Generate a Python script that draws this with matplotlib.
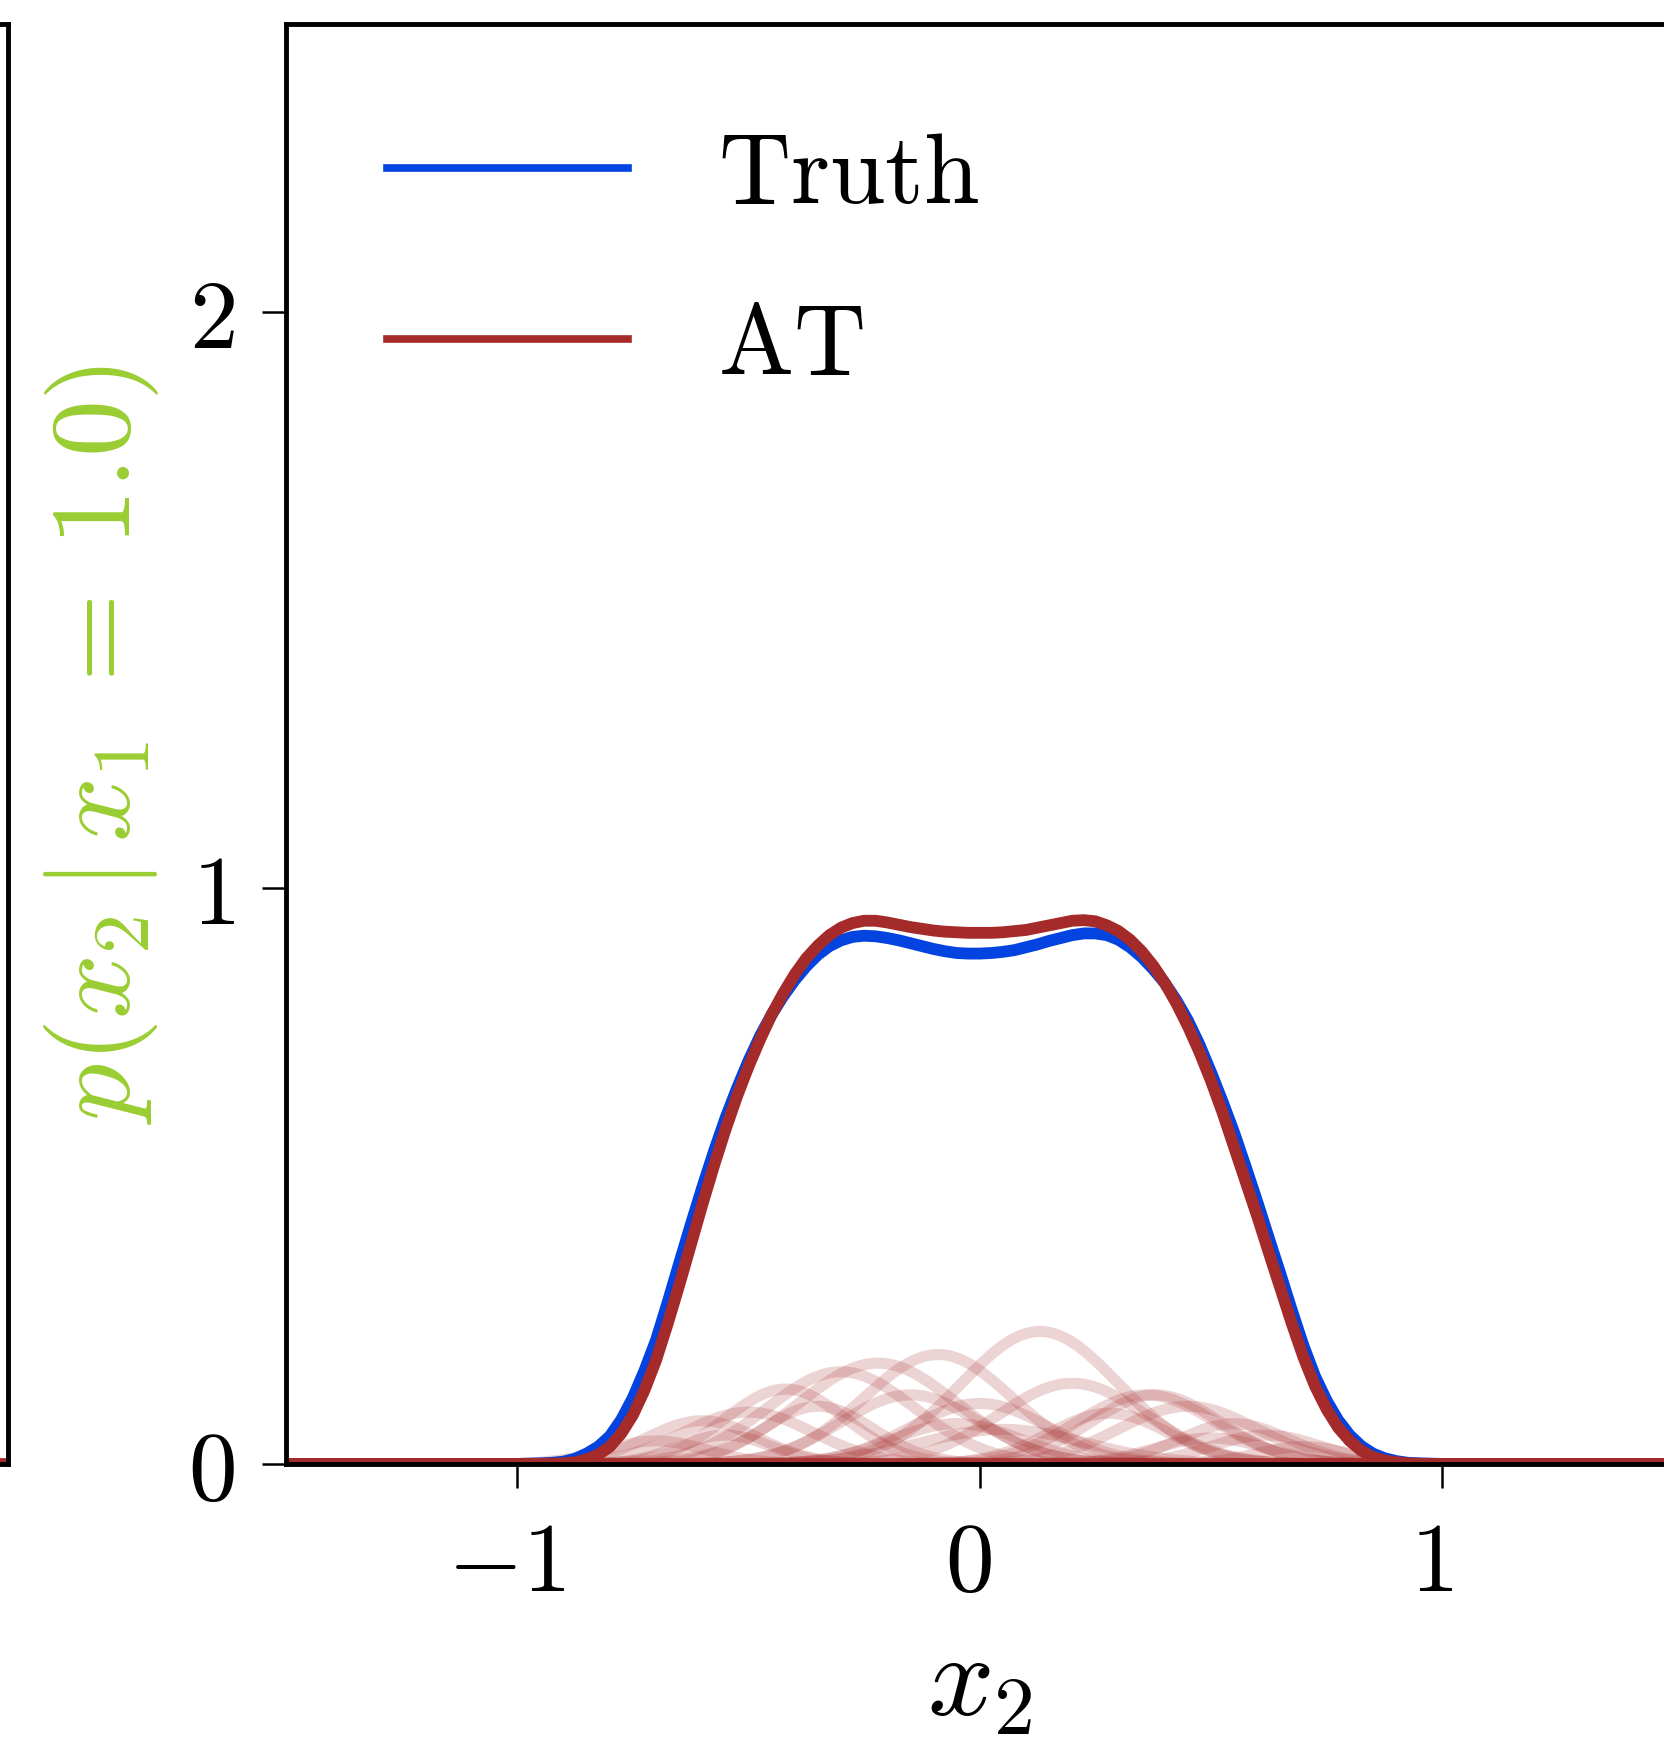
import matplotlib
matplotlib.use("Agg")
import matplotlib.pyplot as plt
import matplotlib.transforms as mtransforms
import numpy as np

plt.rcParams["mathtext.fontset"] = "cm"

# =========================
# data
# =========================
# sample points: flat zero tails plus a 0.025 grid over the support
x_core = np.round(np.arange(-1.0, 1.0001, 0.025), 3)
x2 = np.concatenate([[-1.5], x_core, [1.5]])

truth_core = [
    0.0, 0.0005, 0.001, 0.002, 0.004, 0.009, 0.018, 0.030, 0.048, 0.077,      # -1.000 .. -0.775
    0.115, 0.162, 0.215, 0.280, 0.348, 0.415, 0.480, 0.542, 0.600, 0.652,     # -0.750 .. -0.525
    0.700, 0.743, 0.780, 0.812, 0.840, 0.864, 0.884, 0.899, 0.909, 0.915,     # -0.500 .. -0.275
    0.917, 0.916, 0.913, 0.909, 0.904, 0.899, 0.894, 0.890, 0.887, 0.886,     # -0.250 .. -0.025
    0.886,                                                                     # 0.000
    0.887, 0.889, 0.892, 0.897, 0.902, 0.908, 0.913, 0.918, 0.921, 0.921,     # 0.025 .. 0.250
    0.918, 0.910, 0.897, 0.880, 0.859, 0.835, 0.805, 0.770, 0.728, 0.680,     # 0.275 .. 0.500
    0.629, 0.575, 0.516, 0.455, 0.392, 0.330, 0.266, 0.205, 0.152, 0.110,     # 0.525 .. 0.750
    0.076, 0.050, 0.031, 0.018, 0.010, 0.005, 0.002, 0.001, 0.0005, 0.0,      # 0.775 .. 1.000
]
at_core = [
    0.0, 0.0, 0.0, 0.0005, 0.001, 0.003, 0.008, 0.016, 0.030, 0.053,
    0.085, 0.128, 0.180, 0.243, 0.310, 0.380, 0.450, 0.517, 0.580, 0.638,
    0.690, 0.737, 0.780, 0.817, 0.850, 0.878, 0.900, 0.918, 0.931, 0.939,
    0.943, 0.943, 0.940, 0.936, 0.932, 0.929, 0.926, 0.924, 0.923, 0.922,
    0.922,
    0.922, 0.923, 0.925, 0.927, 0.931, 0.935, 0.939, 0.943, 0.944, 0.942,
    0.935, 0.925, 0.910, 0.890, 0.865, 0.835, 0.800, 0.760, 0.715, 0.665,
    0.610, 0.550, 0.490, 0.430, 0.367, 0.305, 0.243, 0.185, 0.135, 0.095,
    0.063, 0.040, 0.023, 0.012, 0.006, 0.003, 0.001, 0.0, 0.0, 0.0,
]
truth = np.array([0.0] + truth_core + [0.0])
at = np.array([0.0] + at_core + [0.0])

# mixture components of AT: centre, peak height, width
comp_mu = [0.13, -0.09, -0.22, -0.42, -0.60, 0.38, 0.28, 0.55, 0.00, -0.30,
           0.45, -0.50, 0.20, -0.15, 0.62, -0.70, 0.05, 0.36, -0.35, 0.70,
           -0.55, 0.50, -0.05]
comp_peak = [0.23, 0.19, 0.175, 0.13, 0.075, 0.12, 0.088, 0.07, 0.105, 0.16,
             0.10, 0.09, 0.14, 0.12, 0.05, 0.04, 0.06, 0.12, 0.10, 0.03,
             0.05, 0.045, 0.07]
comp_sd = [0.17, 0.16, 0.17, 0.13, 0.12, 0.14, 0.13, 0.12, 0.15, 0.16,
           0.15, 0.14, 0.16, 0.15, 0.12, 0.11, 0.18, 0.15, 0.12, 0.10,
           0.10, 0.12, 0.14]

labels = [r"$\mathrm{Truth}$", r"$\mathrm{AT}$"]
xticks = [-1, 0, 1]
xticklabels = [r"$-1$", r"$0$", r"$1$"]
yticks = [0, 1, 2]
yticklabels = [r"$0$", r"$1$", r"$2$"]

c_truth = "#0343df"
c_at = "#a52a2a"

# =========================
# figure
# =========================
fig = plt.figure(figsize=(16.65, 17.57), dpi=100)
left, bottom, width, height = 0.1718, 0.1668, 0.8333, 0.8196

# neighbour panel, only its right edge is visible
ax0 = fig.add_axes([-0.4, bottom, 0.4 + 8 / 1665, height])
ax0.plot(x2, at, color=c_at, lw=8.5)
ax0.set_xlim(-1.5, 1.5)
ax0.set_ylim(0, 2.5)
ax0.set_xticks([])
ax0.set_yticks([])
for s in ax0.spines.values():
    s.set_linewidth(3.5)

ax = fig.add_axes([left, bottom, width, height])

grid = np.linspace(-1.5, 1.5, 601)
for mu, pk, sd in zip(comp_mu, comp_peak, comp_sd):
    ax.plot(grid, pk * np.exp(-0.5 * ((grid - mu) / sd) ** 2),
            color=c_at, alpha=0.2, lw=8)

ax.plot(x2, truth, color=c_truth, lw=8.5, label=labels[0])
ax.plot(x2, at, color=c_at, lw=8.5, label=labels[1])

ax.set_xlim(-1.5, 1.5)
ax.set_ylim(0, 2.5)
ax.set_xticks(xticks)
ax.set_xticklabels(xticklabels)
ax.set_yticks(yticks)
ax.set_yticklabels(yticklabels)
ax.tick_params(axis="both", length=17, width=1.8, labelsize=70)
ax.tick_params(axis="x", pad=22)
ax.tick_params(axis="y", pad=20)
shift = mtransforms.ScaledTranslation(-0.11, 0, fig.dpi_scale_trans)
for t in ax.get_xticklabels():
    t.set_transform(t.get_transform() + shift)
for s in ax.spines.values():
    s.set_linewidth(3.5)

ax.set_xlabel(r"$x_2$", fontsize=84)
ax.set_ylabel(r"$p(x_2\,|\,x_1\;=\;1.0)$", fontsize=82, color="yellowgreen")
ax.xaxis.set_label_coords(0.5, -0.112)
ax.yaxis.set_label_coords(-0.09, 0.5)

leg = ax.legend(loc="upper left", bbox_to_anchor=(0.0728, 0.9285), frameon=False,
                fontsize=72, borderpad=0, borderaxespad=0, handlelength=2.41,
                handletextpad=0.9, labelspacing=0.74)
for l in leg.get_lines():
    l.set_linewidth(5.5)

fig.savefig("out.png", dpi=100)
